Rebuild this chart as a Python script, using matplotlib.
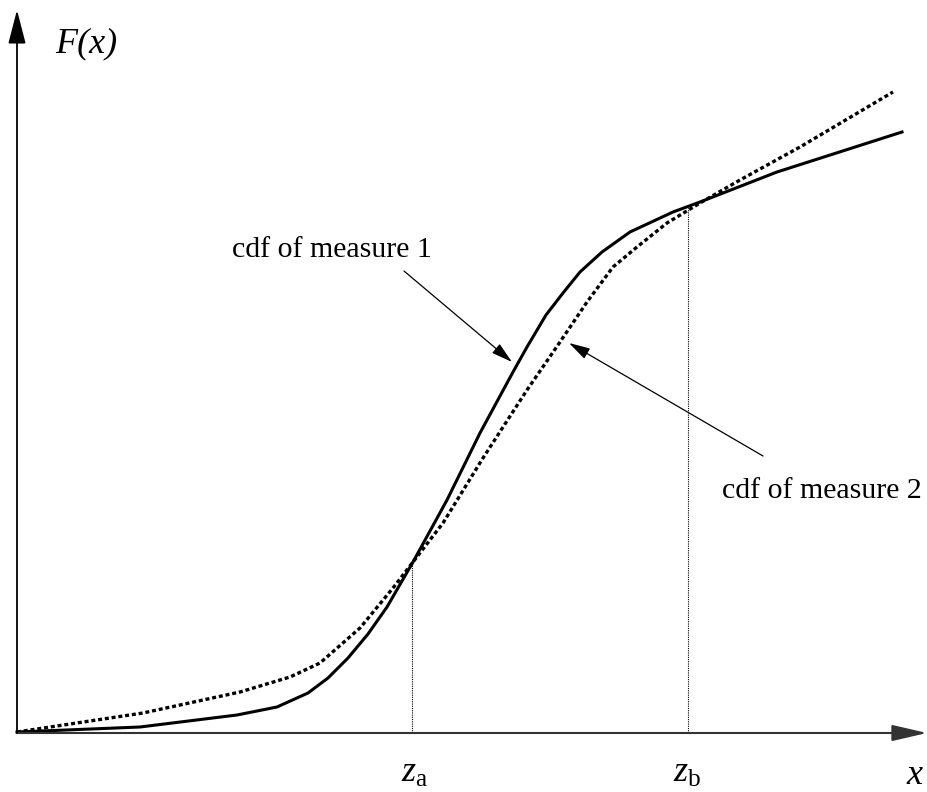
import matplotlib
matplotlib.use("Agg")
import matplotlib.pyplot as plt
import numpy as np

plt.rcParams['font.family'] = ['Liberation Serif', 'DejaVu Serif']
plt.rcParams['mathtext.fontset'] = 'custom'
plt.rcParams['mathtext.rm'] = 'Liberation Serif'
plt.rcParams['mathtext.it'] = 'Liberation Serif:italic'

# Data (x to the right of the origin, F upward from the x-axis, in pixel units)
x1 = [0, 123, 220, 260, 291, 311, 331, 351, 370, 396, 430, 463, 496, 510, 529, 546, 563, 585, 613, 656, 683, 760, 885]
F1 = [1, 6, 18, 26, 40, 55, 75, 99, 126, 171, 233, 300, 361, 386, 418, 440, 461, 481, 501, 521, 531, 561, 601]

x2 = [0, 126, 223, 273, 303, 343, 376, 396, 426, 466, 510, 543, 570, 596, 620, 650, 683, 723, 783, 876]
F2 = [1, 20, 41, 56, 70, 105, 145, 171, 210, 275, 343, 391, 431, 466, 486, 510, 530, 553, 586, 641]

za_x, za_F = 395, 171
zb_x, zb_F = 671, 525

label1 = "cdf of measure 1"
label2 = "cdf of measure 2"
label1_xy, label1_tip, label1_tail = (315, 476), (495, 371), (387, 462)
label2_xy, label2_tip, label2_tail = (805, 235), (552, 390), (746, 277)

fig = plt.figure(figsize=(9.27, 7.92), dpi=100)
ax = fig.add_axes([0, 0, 1, 1])
ax.set_xlim(-17, 910)
ax.set_ylim(-59, 733)
ax.axis('off')

ax.plot(x1, F1, color='black', lw=2.2, solid_joinstyle='miter', zorder=3)
ax.plot(x2, F2, color='black', lw=2.4, linestyle=(0, (1.2, 0.85)),
        dash_capstyle='butt', zorder=3)

# dotted verticals
ax.plot([za_x, za_x], [0, za_F], color='black', lw=0.8, linestyle=(0, (1, 1)), zorder=2)
ax.plot([zb_x, zb_x], [0, zb_F], color='black', lw=0.8, linestyle=(0, (1, 1)), zorder=2)

# axes with arrows
ax.annotate('', xy=(910, 0), xytext=(0, 0),
            arrowprops=dict(arrowstyle='-|>,head_length=21.6,head_width=5.0',
                            mutation_scale=1, color='#333333', lw=1.5,
                            shrinkA=0, shrinkB=0), zorder=4)
ax.annotate('', xy=(0, 723), xytext=(0, 0),
            arrowprops=dict(arrowstyle='-|>,head_length=20.9,head_width=5.4',
                            mutation_scale=1, color='black', lw=1.3,
                            shrinkA=0, shrinkB=0), zorder=4)

# pointer arrows
for tail, tip in [(label1_tail, label1_tip), (label2_tail, label2_tip)]:
    ax.annotate('', xy=tip, xytext=tail,
                arrowprops=dict(arrowstyle='-|>,head_length=13,head_width=3.6',
                                mutation_scale=1, color='black', lw=0.9,
                                shrinkA=0, shrinkB=0), zorder=5)

ax.text(*label1_xy, label1, fontsize=21.5, ha='center', va='baseline')
ax.text(*label2_xy, label2, fontsize=21.5, ha='center', va='baseline')

ax.text(69, 681, 'F(x)', fontsize=26, style='italic', ha='center', va='baseline')
ax.text(za_x + 3, -49, r'$z_{\mathrm{a}}$', fontsize=26, ha='center', va='baseline')
ax.text(zb_x - 1, -49, r'$z_{\mathrm{b}}$', fontsize=26, ha='center', va='baseline')
ax.text(897, -51, 'x', fontsize=26, style='italic', ha='center', va='baseline')

fig.savefig('out.png', dpi=100)
